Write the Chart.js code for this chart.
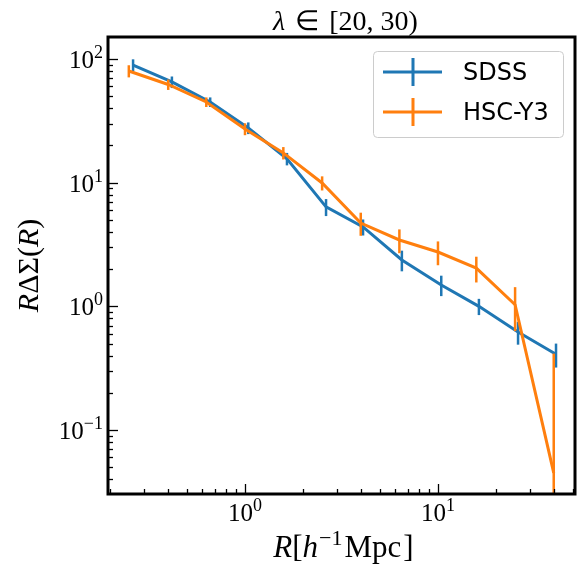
<!DOCTYPE html>
<html>
<head>
<meta charset="utf-8">
<script src="https://cdn.jsdelivr.net/npm/chart.js@4.4.0/dist/chart.umd.min.js"></script>
<style>
  body { margin: 0; background: #fff; }
  canvas { display: block; }
</style>
</head>
<body>
<canvas id="myChart" width="584" height="571"></canvas>
<script>
// radial bins, h^-1 Mpc (SDSS slightly shifted right, like in the paper plot)
const sdssR   = [0.263, 0.418, 0.66, 1.04, 1.65, 2.63, 4.09, 6.5, 10.4, 16.3, 26.0, 40.9];
const sdssVal = [89.4, 65.2, 44.9, 27.7, 15.6, 6.37, 4.39, 2.37, 1.49, 1.0, 0.62, 0.41];
const sdssErr = [10, 7, 4, 3, 1.8, 1.0, 0.65, 0.45, 0.28, 0.15, 0.13, 0.09];

const hscR   = [0.25, 0.4, 0.63, 1.0, 1.58, 2.51, 3.98, 6.31, 10, 15.8, 25.1, 39.8];
const hscVal = [80, 62.2, 44.9, 27.2, 17.4, 9.95, 4.72, 3.44, 2.75, 2.04, 1.03, 0.045];
const hscErr = [9, 6, 4, 3, 2, 1.3, 1.0, 0.75, 0.6, 0.48, 0.4, 0.37];

// axis ranges and tick labels (base, exponent)
const xRange = [0.195, 51.3];
const yRange = [0.0304, 150.6];
const xMajor = [1, 10];
const xTickLabels = [['10', '0'], ['10', '1']];
const yMajor = [0.1, 1, 10, 100];
const yTickLabels = [['10', '−1'], ['10', '0'], ['10', '1'], ['10', '2']];

const blue = '#1f77b4';
const orange = '#ff7f0e';
const serif = '"Liberation Serif", serif';

function toPoints(xs, ys) {
  return xs.map((x, i) => ({ x: x, y: ys[i] }));
}

// draw a run of text pieces (italic / superscript) starting at x
function richWidth(ctx, segs) {
  let w = 0;
  segs.forEach(s => {
    ctx.font = (s.it ? 'italic ' : '') + s.size + 'px ' + serif;
    w += ctx.measureText(s.t).width + (s.gap || 0);
  });
  return w;
}
function drawRich(ctx, segs, x, y) {
  segs.forEach(s => {
    ctx.font = (s.it ? 'italic ' : '') + s.size + 'px ' + serif;
    ctx.fillText(s.t, x, y + (s.dy || 0));
    x += ctx.measureText(s.t).width + (s.gap || 0);
  });
}

const errorBars = {
  id: 'errorBars',
  afterDatasetDraw(chart, args) {
    const ds = chart.data.datasets[args.index];
    const xs = chart.scales.x, ys = chart.scales.y, area = chart.chartArea;
    const ctx = chart.ctx;
    ctx.save();
    ctx.beginPath();
    ctx.rect(area.left, area.top, area.right - area.left, area.bottom - area.top);
    ctx.clip();
    ctx.strokeStyle = ds.borderColor;
    ctx.lineWidth = 2.5;
    ds.data.forEach((p, i) => {
      const e = ds.errors[i];
      const px = xs.getPixelForValue(p.x);
      const top = ys.getPixelForValue(p.y + e);
      const bot = p.y - e > 0 ? ys.getPixelForValue(p.y - e) : area.bottom + 5;
      ctx.beginPath();
      ctx.moveTo(px, top);
      ctx.lineTo(px, bot);
      ctx.stroke();
    });
    ctx.restore();
  }
};

const decorations = {
  id: 'decorations',
  afterDraw(chart) {
    const ctx = chart.ctx;
    const xs = chart.scales.x, ys = chart.scales.y, a = chart.chartArea;
    ctx.save();
    ctx.fillStyle = '#000';
    ctx.strokeStyle = '#000';

    // inward ticks, bottom and left only
    ctx.lineWidth = 1.3;
    for (let d = -1; d <= 1; d++) {
      for (let m = 1; m <= 9; m++) {
        const v = m * Math.pow(10, d);
        if (v < xRange[0] || v > xRange[1]) continue;
        const px = Math.round(xs.getPixelForValue(v)) + 0.5;
        const len = m === 1 ? 10 : 5;
        ctx.beginPath();
        ctx.moveTo(px, a.bottom);
        ctx.lineTo(px, a.bottom - len);
        ctx.stroke();
      }
    }
    for (let d = -2; d <= 2; d++) {
      for (let m = 1; m <= 9; m++) {
        const v = m * Math.pow(10, d);
        if (v < yRange[0] || v > yRange[1]) continue;
        const py = Math.round(ys.getPixelForValue(v)) + 0.5;
        const len = m === 1 ? 10 : 5;
        ctx.beginPath();
        ctx.moveTo(a.left, py);
        ctx.lineTo(a.left + len, py);
        ctx.stroke();
      }
    }

    // frame
    ctx.lineWidth = 3;
    ctx.strokeRect(a.left, a.top, a.right - a.left, a.bottom - a.top);

    // tick labels
    ctx.textBaseline = 'alphabetic';
    ctx.textAlign = 'left';
    xMajor.forEach((v, i) => {
      const segs = [{ t: xTickLabels[i][0], size: 25 }, { t: xTickLabels[i][1], size: 18, dy: -10 }];
      const w = richWidth(ctx, segs);
      drawRich(ctx, segs, xs.getPixelForValue(v) - w / 2, a.bottom + 27);
    });
    yMajor.forEach((v, i) => {
      const segs = [{ t: yTickLabels[i][0], size: 25 }, { t: yTickLabels[i][1], size: 18, dy: -10 }];
      const w = richWidth(ctx, segs);
      drawRich(ctx, segs, a.left - 5 - w, ys.getPixelForValue(v) + 9);
    });

    // title
    const cx = (a.left + a.right) / 2;
    const title = [{ t: 'λ', size: 28, it: true, gap: 3 }, { t: ' ∈ ', size: 28, gap: 3 }, { t: '[20, 30)', size: 28 }];
    drawRich(ctx, title, cx + 4 - richWidth(ctx, title) / 2, 30);

    // x axis label
    const xl = [
      { t: 'R', size: 31, it: true }, { t: '[', size: 31 }, { t: 'h', size: 31, it: true, gap: 1 },
      { t: '−1', size: 22, dy: -12, gap: 2 }, { t: 'Mpc', size: 31, gap: 2 }, { t: ']', size: 31 }
    ];
    drawRich(ctx, xl, cx + 2 - richWidth(ctx, xl) / 2, 557);

    // y axis label
    const yl = [
      { t: 'R', size: 30, it: true }, { t: 'ΔΣ', size: 30 }, { t: '(', size: 30 },
      { t: 'R', size: 30, it: true }, { t: ')', size: 30 }
    ];
    ctx.save();
    ctx.translate(38, (a.top + a.bottom) / 2);
    ctx.rotate(-Math.PI / 2);
    drawRich(ctx, yl, -richWidth(ctx, yl) / 2, 0);
    ctx.restore();

    // legend
    const lx = 373, ly = 51, lw = 190, lh = 86;
    ctx.fillStyle = 'rgba(255,255,255,0.8)';
    ctx.strokeStyle = '#cccccc';
    ctx.lineWidth = 1;
    ctx.beginPath();
    ctx.roundRect(lx + 0.5, ly + 0.5, lw, lh, 4);
    ctx.fill();
    ctx.stroke();
    const items = [['SDSS', blue, 72], ['HSC-Y3', orange, 112]];
    items.forEach(it => {
      ctx.strokeStyle = it[1];
      ctx.lineWidth = 3;
      ctx.beginPath();
      ctx.moveTo(383, it[2]);
      ctx.lineTo(442, it[2]);
      ctx.moveTo(413, it[2] - 14);
      ctx.lineTo(413, it[2] + 14);
      ctx.stroke();
      ctx.fillStyle = '#000';
      ctx.font = '24px "DejaVu Sans"';
      ctx.textBaseline = 'middle';
      ctx.fillText(it[0], 463, it[2] + 2);
    });
    ctx.restore();
  }
};

new Chart(document.getElementById('myChart'), {
  type: 'line',
  data: {
    datasets: [{
      label: 'SDSS',
      data: toPoints(sdssR, sdssVal),
      errors: sdssErr,
      borderColor: blue,
      backgroundColor: blue,
      borderWidth: 3,
      pointRadius: 0,
      order: 1
    }, {
      label: 'HSC-Y3',
      data: toPoints(hscR, hscVal),
      errors: hscErr,
      borderColor: orange,
      backgroundColor: orange,
      borderWidth: 3,
      pointRadius: 0,
      order: 0
    }]
  },
  options: {
    responsive: false,
    animation: false,
    layout: { padding: { left: 0, right: 9, top: 37, bottom: 0 } },
    plugins: { legend: { display: false }, tooltip: { enabled: false } },
    scales: {
      x: {
        type: 'logarithmic',
        min: xRange[0],
        max: xRange[1],
        grid: { display: false },
        border: { display: false },
        ticks: { display: false },
        afterFit: s => { s.height = 77; }
      },
      y: {
        type: 'logarithmic',
        min: yRange[0],
        max: yRange[1],
        grid: { display: false },
        border: { display: false },
        ticks: { display: false },
        afterFit: s => { s.width = 108; }
      }
    }
  },
  plugins: [errorBars, decorations]
});
</script>
</body>
</html>
